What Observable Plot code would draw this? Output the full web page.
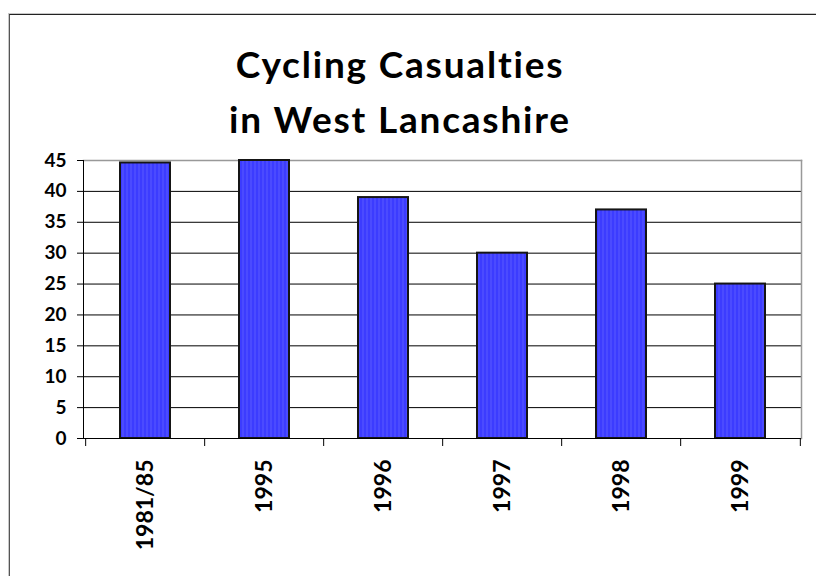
<!DOCTYPE html>
<html>
<head>
<meta charset="utf-8">
<script src="https://cdn.jsdelivr.net/npm/d3@7"></script>
<script src="https://cdn.jsdelivr.net/npm/@observablehq/plot@0.6"></script>
<style>
  html, body { margin: 0; padding: 0; background: #fff; }
  #page { position: relative; width: 816px; height: 576px; overflow: hidden; font-family: Lato, "DejaVu Sans", sans-serif; }
  #frame { position: absolute; left: 9px; top: 14px; width: 820px; height: 600px;
           border-top: 1px solid #222; border-left: 1px solid #555;
           box-shadow: -1px -1px 0 #c8c8c8; }
  #title { position: absolute; left: 0; width: 800px; top: 36px; text-align: center;
           font-size: 37px; font-weight: bold; line-height: 55px; letter-spacing: 1.8px; color: #000; }
  #chart { position: absolute; left: 0; top: 0; }
</style>
</head>
<body>
<div id="page">
  <div id="frame"></div>
  <div id="chart"></div>
  <div id="title">Cycling Casualties<br>in West Lancashire</div>
</div>
<script>
const categories = ["1981/85", "1995", "1996", "1997", "1998", "1999"];
const casualties = [44.6, 45, 39, 30, 37, 25];
const yTicks = [0, 5, 10, 15, 20, 25, 30, 35, 40, 45];

const data = categories.map((c, i) => ({year: c, value: casualties[i]}));

const W = 816, H = 576;
const mL = 83, mR = 15, mT = 160, mB = 138;
const step = (W - mL - mR) / categories.length;
const plotH = H - mT - mB;

const chart = Plot.plot({
  width: W, height: H,
  marginLeft: mL, marginRight: mR, marginTop: mT, marginBottom: mB,
  style: {fontFamily: "Lato, 'DejaVu Sans', sans-serif", color: "#000", background: "transparent", overflow: "visible"},
  x: {domain: categories, paddingInner: 0.58, paddingOuter: 0.29, label: null},
  y: {domain: [0, 45], label: null},
  marks: [
    Plot.ruleY(yTicks.filter(v => v > 0 && v < 45), {stroke: "#000", strokeWidth: 1}),
    Plot.frame({anchor: "top", stroke: "#999", strokeWidth: 1.5}),
    Plot.frame({anchor: "right", stroke: "#999", strokeWidth: 1.5}),
    Plot.barY(data, {x: "year", y: "value", fill: "url(#stripes)", stroke: "#151515", strokeWidth: 2}),
    Plot.ruleY([0], {stroke: "#000", strokeWidth: 1}),
    Plot.frame({anchor: "left", stroke: "#000", strokeWidth: 1}),
    Plot.ruleX(categories, {x: d => d, dx: -step / 2, insetTop: plotH, insetBottom: -8, stroke: "#000"}),
    Plot.ruleX([categories[categories.length - 1]], {x: d => d, dx: step / 2, insetTop: plotH, insetBottom: -8, stroke: "#000"}),
    Plot.axisY({ticks: yTicks, tickSize: 6, tickPadding: 11, fontSize: 19, fontWeight: "bold", label: null}),
    Plot.axisX({tickSize: 0, tickRotate: -90, tickPadding: 21, fontSize: 23, fontWeight: "bold", label: null})
  ]
});

const ns = "http://www.w3.org/2000/svg";
const defs = document.createElementNS(ns, "defs");
defs.innerHTML = '<pattern id="stripes" width="4" height="4" patternUnits="userSpaceOnUse">' +
  '<rect width="2" height="4" fill="#3c3cff"></rect><rect x="2" width="2" height="4" fill="#4b4bff"></rect></pattern>';
chart.insertBefore(defs, chart.firstChild);
document.getElementById("chart").appendChild(chart);
</script>
</body>
</html>
